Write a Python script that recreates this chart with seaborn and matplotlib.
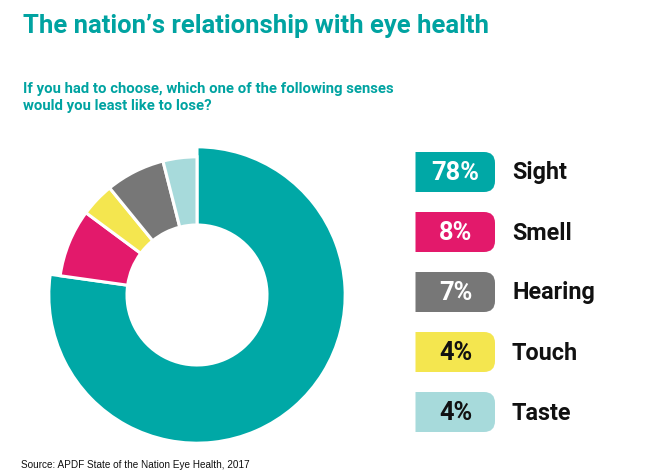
import matplotlib
matplotlib.use("Agg")
import matplotlib.pyplot as plt
import seaborn as sns
from matplotlib.path import Path
from matplotlib.patches import PathPatch

# ---------------- data ----------------
title = "The nation’s relationship with eye health"
subtitle = ["If you had to choose, which one of the following senses",
            "would you least like to lose?"]
source = "Source: APDF State of the Nation Eye Health, 2017"

ring_senses = ["Sight", "Smell", "Touch", "Hearing", "Taste"]  # clockwise from 12 o'clock
ring_shares = [78, 8, 4, 7, 4]
legend_senses = ["Sight", "Smell", "Hearing", "Touch", "Taste"]
legend_shares = [78, 8, 7, 4, 4]

sense_colors = {"Sight": "#00A8A6", "Smell": "#E3196B", "Hearing": "#777777",
                "Touch": "#F4E64F", "Taste": "#A7DADB"}
badge_text_colors = {"Sight": "white", "Smell": "white", "Hearing": "white",
                     "Touch": "#111111", "Taste": "#111111"}
TEAL_TEXT = "#00A3A1"

# ---------------- style ----------------
sns.set_theme(style="white")
plt.rcParams['font.family'] = ['Roboto', 'DejaVu Sans']
HEAD_FONT = ["Liberation Sans Narrow", "Roboto", "DejaVu Sans"]

W, H = 660, 476
fig = plt.figure(figsize=(W / 100, H / 100), dpi=100)
fig.patch.set_facecolor("white")

# donut: centre (197,295) px, outer radius 147 px
cx, cy, R = 197, 295, 147
ax = fig.add_axes([(cx - R) / W, (H - cy - R) / H, 2 * R / W, 2 * R / H])
palette = sns.color_palette([sense_colors[s] for s in ring_senses])
inner = 70 / R
wedges, _ = ax.pie(ring_shares, colors=palette, startangle=90, counterclock=False,
                   wedgeprops=dict(width=1 - inner, edgecolor="white", linewidth=2.2))
for w, name in zip(wedges, ring_senses):
    w.set_clip_on(False)
    r = 1.008 if name == "Sight" else 0.94
    w.set_radius(r)
    w.set_width(r - inner)
ax.set_xlim(-1, 1)
ax.set_ylim(-1, 1)
ax.set_aspect("equal")
ax.axis("off")

# overlay in pixel coordinates
ov = fig.add_axes([0, 0, 1, 1])
ov.set_xlim(0, W)
ov.set_ylim(H, 0)
ov.axis("off")
ov.patch.set_alpha(0)

fig.canvas.draw()
renderer = fig.canvas.get_renderer()


def fit(t, target_w):
    w = t.get_window_extent(renderer=renderer).width
    t.set_fontsize(t.get_fontsize() * target_w / w)
    return t.get_fontsize()


t = ov.text(23, 33, title, color=TEAL_TEXT, fontsize=18, fontweight="bold",
            family=HEAD_FONT, ha="left", va="baseline")
fit(t, 465)

s1 = ov.text(23, 92.5, subtitle[0], color=TEAL_TEXT, fontsize=12, fontweight="bold",
             family=HEAD_FONT, ha="left", va="baseline")
fs = fit(s1, 369)
ov.text(23, 110, subtitle[1], color=TEAL_TEXT, fontsize=fs, fontweight="bold",
        family=HEAD_FONT, ha="left", va="baseline")

src = ov.text(21, 468.5, source, color="#111111", fontsize=7.5,
              family=["Liberation Sans", "DejaVu Sans"], ha="left", va="baseline")
fit(src, 227)


def badge(x0, y0, x1, y1, r, color):
    verts = [(x0, y0), (x1 - r, y0), (x1, y0), (x1, y0 + r), (x1, y1 - r),
             (x1, y1), (x1 - r, y1), (x0, y1), (x0, y0)]
    codes = [Path.MOVETO, Path.LINETO, Path.CURVE3, Path.CURVE3, Path.LINETO,
             Path.CURVE3, Path.CURVE3, Path.LINETO, Path.CLOSEPOLY]
    ov.add_patch(PathPatch(Path(verts, codes), facecolor=color, edgecolor="none"))


# legend label size from "Hearing" width
probe = ov.text(0, -100, "Hearing", fontsize=14, fontweight="bold")
lab_fs = fit(probe, 83)
probe.remove()
probe = ov.text(0, -100, "78%", fontsize=14, fontweight="bold")
pct_fs = fit(probe, 48)
probe.remove()

for i, (name, val) in enumerate(zip(legend_senses, legend_shares)):
    top = 152 + 60 * i
    bot = top + 40
    badge(415.5, top, 495, bot, 11, sense_colors[name])
    yc = (top + bot) / 2
    ov.text(455.5, yc + 7.5, f"{val}%", color=badge_text_colors[name], fontsize=pct_fs,
            fontweight="bold", ha="center", va="baseline")
    ov.text(512, yc + 7.5, name, color="#111111", fontsize=lab_fs,
            fontweight="bold", ha="left", va="baseline")

fig.savefig("out.png", dpi=100, facecolor="white")
